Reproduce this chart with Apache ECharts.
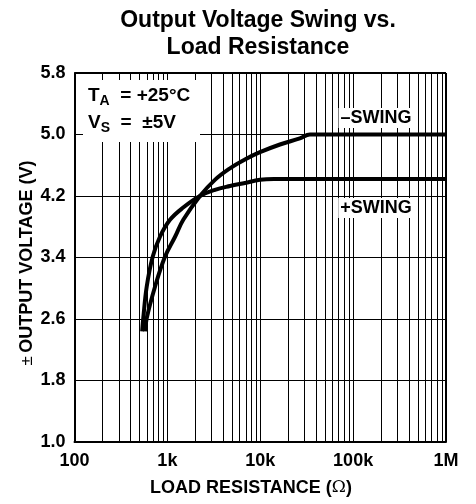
<!DOCTYPE html>
<html><head><meta charset="utf-8">
<script src="https://cdn.jsdelivr.net/npm/echarts@6/dist/echarts.min.js"></script>
<style>html,body{margin:0;padding:0;background:#fff}#c{width:476px;height:504px}</style>
</head><body><div id="c"></div>
<script>
// Data
const plusR = [535, 550, 599, 695, 832, 1067, 1480, 2244, 3250, 4720, 6840, 9930, 14000, 30000, 100000, 1000000];
const plusV = [2.44, 2.61, 3.02, 3.41, 3.67, 3.89, 4.05, 4.20, 4.28, 4.33, 4.37, 4.41, 4.42, 4.42, 4.42, 4.42];
const minusR = [575, 599, 736, 942, 1210, 1483, 2244, 3250, 4720, 6840, 9930, 16300, 26700, 34300, 60000, 200000, 1000000];
const minusV = [2.44, 2.61, 3.02, 3.41, 3.67, 3.89, 4.20, 4.41, 4.56, 4.675, 4.77, 4.87, 4.95, 5.00, 5.00, 5.00, 5.00];
const yTicks = [1.0, 1.8, 2.6, 3.4, 4.2, 5.0, 5.8];
const xTicks = [100, 1000, 10000, 100000, 1000000];
const xTickLabels = ['100', '1k', '10k', '100k', '1M'];
const minorR = [];
for (let d = 100; d < 1000000; d *= 10) for (let k = 2; k <= 9; k++) minorR.push(d * k);

const F = 'Liberation Sans, Arial, sans-serif';
const chart = echarts.init(document.getElementById('c'));
chart.setOption({
  animation: false,
  backgroundColor: '#fff',
  grid: { left: 74.5, right: 30, top: 73, bottom: 62 },
  xAxis: {
    type: 'log', logBase: 10, min: 100, max: 1000000,
    axisLine: { show: true, onZero: false, lineStyle: { color: '#000', width: 2 } },
    axisTick: { show: false },
    splitLine: { show: true, lineStyle: { color: '#000', width: 1 } },
    axisLabel: {
      color: '#000', fontFamily: F, fontWeight: 'bold', fontSize: 18, margin: 10,
      formatter: v => { const i = xTicks.findIndex(t => Math.abs(t - v) / t < 1e-6); return i >= 0 ? xTickLabels[i] : ''; }
    }
  },
  yAxis: {
    type: 'value', min: 1.0, max: 5.8, interval: 0.8,
    axisLine: { show: true, lineStyle: { color: '#000', width: 2 } },
    axisTick: { show: false },
    splitLine: { show: true, lineStyle: { color: '#000', width: 1 } },
    axisLabel: { color: '#000', fontFamily: F, fontWeight: 'bold', fontSize: 18, margin: 9,
      formatter: v => v.toFixed(1) }
  },
  series: [
    { type: 'line', data: [], silent: true,
      markLine: { silent: true, symbol: 'none', label: { show: false },
        lineStyle: { color: '#000', width: 1, type: 'solid' },
        data: minorR.map(r => ({ xAxis: r })) } },
    { type: 'line', data: [[1000000, 5.8]], silent: true, symbol: 'none', lineStyle: { width: 0 },
      markLine: { silent: true, symbol: 'none', label: { show: false },
        lineStyle: { color: '#000', width: 2, type: 'solid' },
        data: [{ yAxis: 5.8 }, { xAxis: 1000000 }] } },
    { name: '+SWING', type: 'line', smooth: 0.4, symbol: 'none', z: 5,
      lineStyle: { color: '#000', width: 4 }, data: plusR.map((r, i) => [r, plusV[i]]) },
    { name: '-SWING', type: 'line', smooth: 0.4, symbol: 'none', z: 5,
      lineStyle: { color: '#000', width: 4 }, data: minusR.map((r, i) => [r, minusV[i]]) }
  ],
  graphic: [
    { type: 'text', x: 258, y: 7, style: { text: 'Output Voltage Swing vs.\nLoad Resistance',
      font: 'bold 23px ' + F, fill: '#000', textAlign: 'center', lineHeight: 27 } },
    { type: 'text', x: 27, y: 263, rotation: Math.PI / 2,
      style: { text: '{n|±} {b|OUTPUT VOLTAGE (V)}', textAlign: 'center', textVerticalAlign: 'middle',
        rich: { n: { font: '17px ' + F, fill: '#000' }, b: { font: 'bold 18px ' + F, fill: '#000' } } } },
    { type: 'text', x: 251, y: 488,
      style: { text: '{b|LOAD RESISTANCE (}{n|Ω}{b|)}', textAlign: 'center', textVerticalAlign: 'middle',
        rich: { n: { font: '17px DejaVu Serif, serif', fill: '#000' }, b: { font: 'bold 18px ' + F, fill: '#000' } } } },
    { type: 'rect', z: 9, shape: { x: 83, y: 80, width: 117, height: 62 }, style: { fill: '#fff' } },
    { type: 'text', x: 88, y: 84, z: 10,
      style: { text: '{b|T}{s|A}{b|  = +25°C}', rich: { b: { font: 'bold 19px ' + F, fill: '#000' },
                s: { font: 'bold 14px ' + F, fill: '#000', padding: [10, 0, 0, 0] } } } },
    { type: 'text', x: 88, y: 111, z: 10,
      style: { text: '{b|V}{s|S}{b|  =  ±5V}', rich: { b: { font: 'bold 19px ' + F, fill: '#000' },
                s: { font: 'bold 14px ' + F, fill: '#000', padding: [10, 0, 0, 0] } } } },
    { type: 'text', x: 376, y: 118, z: 10,
      style: { text: '–SWING', font: 'bold 18px ' + F, fill: '#000', textAlign: 'center', textVerticalAlign: 'middle',
        backgroundColor: '#fff', padding: [1, 2] } },
    { type: 'text', x: 376, y: 208, z: 10,
      style: { text: '+SWING', font: 'bold 18px ' + F, fill: '#000', textAlign: 'center', textVerticalAlign: 'middle',
        backgroundColor: '#fff', padding: [1, 2] } }
  ]
});
</script></body></html>
